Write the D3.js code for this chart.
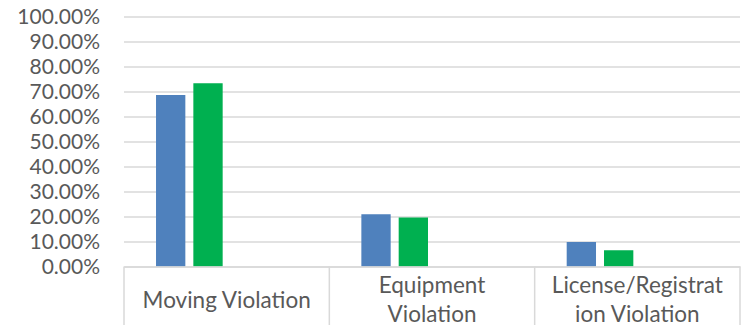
<!DOCTYPE html>
<html>
<head>
<meta charset="utf-8">
<script src="https://cdn.jsdelivr.net/npm/d3@7"></script>
<style>
  html, body { margin: 0; padding: 0; background: #fff; }
  svg { display: block; }
</style>
</head>
<body>
<svg id="chart" width="746" height="325"></svg>
<script>
// Share of stops by violation type, two groups per category
const categories = ["Moving Violation", "Equipment Violation", "License/Registration Violation"];
const categoryLines = [["Moving Violation"], ["Equipment", "Violation"], ["License/Registrat", "ion Violation"]];
const seriesA = [0.686, 0.209, 0.098];
const seriesB = [0.733, 0.196, 0.065];
const yTicks = [0, 0.1, 0.2, 0.3, 0.4, 0.5, 0.6, 0.7, 0.8, 0.9, 1.0];
// Cluster has four slots; the first two hold the series
const slots = ["A", "B", "C", "D"];
const colors = { A: "#4F81BD", B: "#00B050" };

const svg = d3.select("#chart");
const margin = { left: 124, right: 6, top: 16.5, bottom: 58.5 };
const W = 746, H = 325;
const plotBottom = H - margin.bottom;

const x = d3.scaleBand().domain(categories).range([margin.left, W - margin.right]).padding(0);
const xi = d3.scaleBand().domain(slots).range([0, x.bandwidth()])
  .paddingInner(0.2145).paddingOuter(0.858);
const y = d3.scaleLinear().domain([0, 1]).range([plotBottom, margin.top]);

const font = "Lato, 'Open Sans', sans-serif";

// Gridlines and value labels
const yAxis = d3.axisLeft(y).tickValues(yTicks).tickFormat(d3.format(".2%"))
  .tickSize(-(W - margin.right - margin.left)).tickPadding(24);
const gy = svg.append("g").attr("transform", `translate(${margin.left},0)`).call(yAxis);
gy.select(".domain").remove();
gy.selectAll(".tick line").attr("stroke", "#D9D9D9").attr("stroke-width", 1.5);
gy.selectAll(".tick text").attr("fill", "#595959").attr("dy", "0.34em")
  .style("font-family", font).style("font-size", "21px");

// Bars
const rows = categories.map((c, i) => ({ c, A: seriesA[i], B: seriesB[i] }));
const g = svg.append("g");
["A", "B"].forEach(k => {
  g.selectAll(null).data(rows).join("rect")
    .attr("x", d => x(d.c) + xi(k))
    .attr("width", xi.bandwidth())
    .attr("y", d => y(d[k]))
    .attr("height", d => y(0) - y(d[k]))
    .attr("fill", colors[k]);
});

// Category axis boxes
const xAxis = d3.axisBottom(x).tickSize(0).tickFormat("");
const gx = svg.append("g").attr("transform", `translate(0,${plotBottom})`).call(xAxis);
gx.select(".domain").attr("stroke", "#D9D9D9").attr("stroke-width", 1.5);
const edges = categories.map(c => x(c)).concat([W - margin.right]);
gx.selectAll(".sep").data(edges).join("line")
  .attr("x1", d => d).attr("x2", d => d)
  .attr("y1", 0).attr("y2", H - plotBottom)
  .attr("stroke", "#D9D9D9").attr("stroke-width", 1.5);

// Category labels
const lab = gx.selectAll(".cat").data(categories).join("text")
  .attr("text-anchor", "middle")
  .attr("fill", "#595959")
  .style("font-family", font).style("font-size", "22.5px");
lab.each(function (c, i) {
  const lines = categoryLines[i];
  const cx = x(c) + x.bandwidth() / 2;
  const t = d3.select(this);
  const baseY = lines.length === 1 ? 41.8 : 26.8;
  lines.forEach((ln, j) => {
    t.append("tspan").attr("x", cx).attr("y", baseY + j * 28.4).text(ln);
  });
});
</script>
</body>
</html>
